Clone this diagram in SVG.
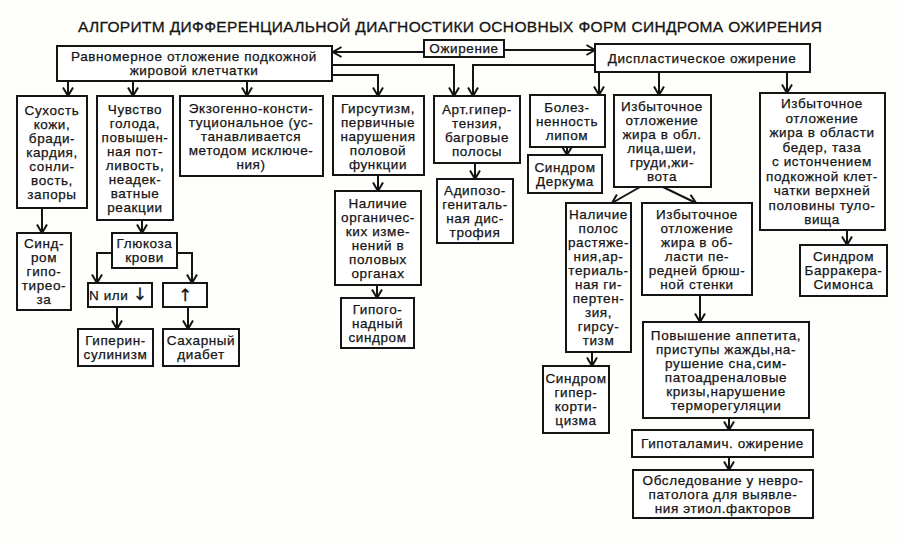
<svg xmlns="http://www.w3.org/2000/svg" width="900" height="545" viewBox="0 0 900 545">
<style>
.b{fill:#fff;stroke:#141414;stroke-width:2}
.t{font-family:"Liberation Sans",Arial,sans-serif;font-size:13.5px;letter-spacing:0.6px;text-anchor:middle;fill:#141414;stroke:#141414;stroke-width:0.25}
.c{fill:none;stroke:#141414;stroke-width:2;marker-end:url(#a)}
.h{font-family:"Liberation Sans",Arial,sans-serif;font-size:15.5px;text-anchor:middle;fill:#141414;stroke:#141414;stroke-width:0.3}
.ar{font-family:"DejaVu Sans",sans-serif;font-size:17px;letter-spacing:0}
</style>
<defs>
<marker id="a" markerUnits="userSpaceOnUse" viewBox="0 0 10 12" refX="9.5" refY="6" markerWidth="10" markerHeight="12" orient="auto">
<path d="M1,1 L9.5,6 L1,11" fill="none" stroke="#141414" stroke-width="2"/>
</marker>
</defs>
<rect width="900" height="545" fill="#fefefb"/>
<text class="h" x="450" y="32" textLength="744" lengthAdjust="spacing">АЛГОРИТМ ДИФФЕРЕНЦИАЛЬНОЙ ДИАГНОСТИКИ ОСНОВНЫХ ФОРМ СИНДРОМА ОЖИРЕНИЯ</text>

<g id="connectors">
<path class="c" d="M424,52 H333"/>
<path class="c" d="M504,50 H595"/>
<path class="c" d="M68,81 V96"/>
<path class="c" d="M133,81 V96"/>
<path class="c" d="M247,81 V96"/>
<path class="c" d="M332,75 H378 V96"/>
<path class="c" d="M332,65 H454 V96"/>
<path class="c" d="M595,65 H473 V96"/>
<path class="c" d="M599,72 V95"/>
<path class="c" d="M659,72 V95"/>
<path class="c" d="M787,72 V93"/>
<path class="c" d="M42,208 V233"/>
<path class="c" d="M142,220 V233"/>
<path class="c" d="M112,253 H97 V283"/>
<path class="c" d="M177,253 H192 V283"/>
<path class="c" d="M117,307 V329"/>
<path class="c" d="M188,307 V329"/>
<path class="c" d="M378,175 V191"/>
<path class="c" d="M377,285 V298"/>
<path class="c" d="M475,163 V179"/>
<path class="c" d="M567,147 V155"/>
<path class="c" d="M640,187 L612,203"/>
<path class="c" d="M663,187 L696,203"/>
<path class="c" d="M592,352 V366"/>
<path class="c" d="M700,295 V322"/>
<path class="c" d="M729,418 V430"/>
<path class="c" d="M729,457 V470"/>
<path class="c" d="M847,230 V245"/>
</g>

<g id="n-obesity"><rect class="b" x="424" y="40" width="80" height="17"/><text class="t" x="464" y="53">Ожирение</text></g>
<g id="n-uniform"><rect class="b" x="57" y="46" width="275" height="35"/><text class="t" x="194" y="61">Равномерное отложение подкожной<tspan x="194" dy="14">жировой клетчатки</tspan></text></g>
<g id="n-dysplastic"><rect class="b" x="595" y="44" width="215" height="28"/><text class="t" x="702" y="62.5">Диспластическое ожирение</text></g>

<g id="n-dry"><rect class="b" x="17" y="96" width="70" height="112"/><text class="t" x="52" y="115">Сухость<tspan x="52" dy="14">кожи,</tspan><tspan x="52" dy="14">бради-</tspan><tspan x="52" dy="14">кардия,</tspan><tspan x="52" dy="14">сонли-</tspan><tspan x="52" dy="14">вость,</tspan><tspan x="52" dy="14">запоры</tspan></text></g>
<g id="n-hunger"><rect class="b" x="97" y="96" width="76" height="124"/><text class="t" x="135" y="114">Чувство<tspan x="135" dy="14">голода,</tspan><tspan x="135" dy="14">повышен-</tspan><tspan x="135" dy="14">ная пот-</tspan><tspan x="135" dy="14">ливость,</tspan><tspan x="135" dy="14">неадек-</tspan><tspan x="135" dy="14">ватные</tspan><tspan x="135" dy="14">реакции</tspan></text></g>
<g id="n-exogenous"><rect class="b" x="180" y="96" width="143" height="80"/><text class="t" x="251" y="113">Экзогенно-консти-<tspan x="251" dy="14">туциональное (ус-</tspan><tspan x="251" dy="14">танавливается</tspan><tspan x="251" dy="14">методом исключе-</tspan><tspan x="251" dy="14">ния)</tspan></text></g>
<g id="n-hirsutism"><rect class="b" x="333" y="96" width="91" height="79"/><text class="t" x="378" y="112.5">Гирсутизм,<tspan x="378" dy="14">первичные</tspan><tspan x="378" dy="14">нарушения</tspan><tspan x="378" dy="14">половой</tspan><tspan x="378" dy="14">функции</tspan></text></g>
<g id="n-hypertension"><rect class="b" x="434" y="96" width="86" height="67"/><text class="t" x="477" y="113.5">Арт.гипер-<tspan x="477" dy="14">тензия,</tspan><tspan x="477" dy="14">багровые</tspan><tspan x="477" dy="14">полосы</tspan></text></g>
<g id="n-painful"><rect class="b" x="530" y="95" width="75" height="52"/><text class="t" x="567" y="111.5">Болез-<tspan x="567" dy="14">ненность</tspan><tspan x="567" dy="14">липом</tspan></text></g>
<g id="n-face"><rect class="b" x="614" y="95" width="97" height="92"/><text class="t" x="662" y="110.5">Избыточное<tspan x="662" dy="14">отложение</tspan><tspan x="662" dy="14">жира в обл.</tspan><tspan x="662" dy="14">лица,шеи,</tspan><tspan x="662" dy="14">груди,жи-</tspan><tspan x="662" dy="14">вота</tspan></text></g>
<g id="n-hips"><rect class="b" x="760" y="93" width="125" height="137"/><text class="t" x="822" y="108">Избыточное<tspan x="822" dy="14.5">отложение</tspan><tspan x="822" dy="14.5">жира в области</tspan><tspan x="822" dy="14.5">бедер, таза</tspan><tspan x="822" dy="14.5">с истончением</tspan><tspan x="822" dy="14.5">подкожной клет-</tspan><tspan x="822" dy="14.5">чатки верхней</tspan><tspan x="822" dy="14.5">половины туло-</tspan><tspan x="822" dy="14.5">вища</tspan></text></g>

<g id="n-hypothyroid"><rect class="b" x="17" y="233" width="54" height="77"/><text class="t" x="44" y="248">Синд-<tspan x="44" dy="14">ром</tspan><tspan x="44" dy="14">гипо-</tspan><tspan x="44" dy="14">тирео-</tspan><tspan x="44" dy="14">за</tspan></text></g>
<g id="n-glucose"><rect class="b" x="112" y="233" width="65" height="35"/><text class="t" x="144.5" y="248">Глюкоза<tspan x="144.5" dy="14">крови</tspan></text></g>
<g id="n-low"><rect class="b" x="88" y="283" width="64" height="24"/><text class="t" x="118" y="300">N или <tspan class="ar">↓</tspan></text></g>
<g id="n-high"><rect class="b" x="163" y="283" width="44" height="24"/><text class="t ar" x="185" y="301">↑</text></g>
<g id="n-hyperins"><rect class="b" x="78" y="329" width="75" height="37"/><text class="t" x="115.5" y="345">Гиперин-<tspan x="115.5" dy="14">сулинизм</tspan></text></g>
<g id="n-diabetes"><rect class="b" x="163" y="329" width="76" height="37"/><text class="t" x="201" y="345">Сахарный<tspan x="201" dy="14">диабет</tspan></text></g>

<g id="n-organic"><rect class="b" x="335" y="191" width="86" height="94"/><text class="t" x="378" y="207.5">Наличие<tspan x="378" dy="14">органичес-</tspan><tspan x="378" dy="14">ких изме-</tspan><tspan x="378" dy="14">нений в</tspan><tspan x="378" dy="14">половых</tspan><tspan x="378" dy="14">органах</tspan></text></g>
<g id="n-hypogonad"><rect class="b" x="341" y="298" width="73" height="50"/><text class="t" x="377.5" y="313.5">Гипого-<tspan x="377.5" dy="14">надный</tspan><tspan x="377.5" dy="14">синдром</tspan></text></g>
<g id="n-adiposo"><rect class="b" x="437" y="179" width="76" height="64"/><text class="t" x="475" y="194.5">Адипозо-<tspan x="475" dy="14">гениталь-</tspan><tspan x="475" dy="14">ная дис-</tspan><tspan x="475" dy="14">трофия</tspan></text></g>
<g id="n-dercum"><rect class="b" x="528" y="155" width="74" height="38"/><text class="t" x="565" y="171.5">Синдром<tspan x="565" dy="14">Деркума</tspan></text></g>

<g id="n-striae"><rect class="b" x="566" y="203" width="65" height="149"/><text class="t" x="598.5" y="219">Наличие<tspan x="598.5" dy="14">полос</tspan><tspan x="598.5" dy="14">растяже-</tspan><tspan x="598.5" dy="14">ния,ар-</tspan><tspan x="598.5" dy="14">териаль-</tspan><tspan x="598.5" dy="14">ная ги-</tspan><tspan x="598.5" dy="14">пертен-</tspan><tspan x="598.5" dy="14">зия,</tspan><tspan x="598.5" dy="14">гирсу-</tspan><tspan x="598.5" dy="14">тизм</tspan></text></g>
<g id="n-abdomen"><rect class="b" x="642" y="203" width="110" height="92"/><text class="t" x="697" y="218.5">Избыточное<tspan x="697" dy="14">отложение</tspan><tspan x="697" dy="14">жира в об-</tspan><tspan x="697" dy="14">ласти пе-</tspan><tspan x="697" dy="14">редней брюш-</tspan><tspan x="697" dy="14">ной стенки</tspan></text></g>
<g id="n-hypercort"><rect class="b" x="543" y="366" width="66" height="67"/><text class="t" x="576" y="383">Синдром<tspan x="576" dy="14">гипер-</tspan><tspan x="576" dy="14">корти-</tspan><tspan x="576" dy="14">цизма</tspan></text></g>
<g id="n-appetite"><rect class="b" x="643" y="322" width="166" height="96"/><text class="t" x="726" y="339.5">Повышение аппетита,<tspan x="726" dy="14">приступы жажды,на-</tspan><tspan x="726" dy="14">рушение сна,сим-</tspan><tspan x="726" dy="14">патоадреналовые</tspan><tspan x="726" dy="14">кризы,нарушение</tspan><tspan x="726" dy="14">терморегуляции</tspan></text></g>
<g id="n-hypothal"><rect class="b" x="632" y="430" width="181" height="27"/><text class="t" x="722.5" y="448">Гипоталамич. ожирение</text></g>
<g id="n-exam"><rect class="b" x="633" y="470" width="180" height="48"/><text class="t" x="723" y="484.5">Обследование у невро-<tspan x="723" dy="14">патолога для выявле-</tspan><tspan x="723" dy="14">ния этиол.факторов</tspan></text></g>
<g id="n-barraquer"><rect class="b" x="800" y="245" width="87" height="51"/><text class="t" x="843.5" y="261">Синдром<tspan x="843.5" dy="14">Барракера-</tspan><tspan x="843.5" dy="14">Симонса</tspan></text></g>
</svg>
